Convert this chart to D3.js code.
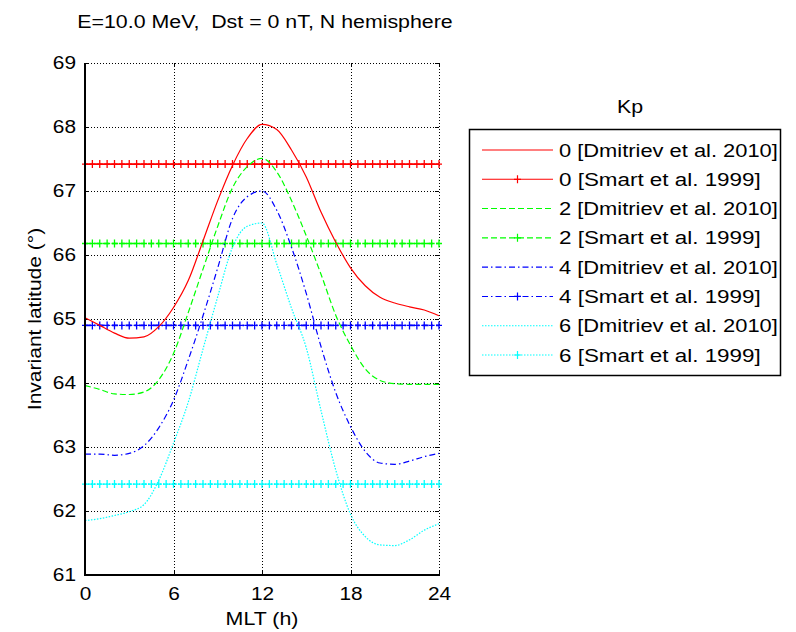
<!DOCTYPE html>
<html>
<head>
<meta charset="utf-8">
<script src="https://cdn.jsdelivr.net/npm/d3@7"></script>
<style>
  html, body { margin: 0; padding: 0; background: #fff; }
  svg { display: block; }
  text { font-family: "Liberation Sans", Arial, Helvetica, sans-serif; fill: #000; }
</style>
</head>
<body>
<svg id="chart" width="796" height="632"></svg>
<script>
// Magnetic local time (h) for the Dmitriev et al. (2010) cutoff curves
const mltHours = [0,1,2,3,4,5,6,7,8,9,10,11,12,13,14,15,16,17,18,19,20,21,22,23,24];

// Invariant latitude (deg) of the cutoff, one series per Kp level
const dmitrievKp0 = [65.02,64.90,64.78,64.70,64.72,64.88,65.18,65.60,66.22,66.85,67.40,67.82,68.04,67.96,67.64,67.22,66.67,66.20,65.80,65.52,65.34,65.25,65.19,65.14,65.05];
const dmitrievKp2 = [63.96,63.90,63.83,63.82,63.86,64.05,64.46,65.10,65.78,66.45,67.05,67.38,67.51,67.30,66.85,66.30,65.70,65.06,64.59,64.22,64.04,63.99,63.98,63.98,63.98];
const dmitrievKp4 = [62.89,62.89,62.87,62.90,63.02,63.30,63.73,64.36,65.05,65.80,66.57,66.91,67.00,66.70,66.12,65.40,64.57,63.85,63.32,62.93,62.75,62.73,62.78,62.85,62.90];
const dmitrievKp6 = [61.85,61.88,61.93,61.99,62.10,62.48,63.06,63.70,64.53,65.35,66.12,66.45,66.50,65.86,65.17,64.55,63.57,62.64,61.95,61.60,61.47,61.46,61.55,61.70,61.80];

// Smart et al. (1999) cutoff latitudes (independent of MLT), sampled every half hour
const smartMlt = [0,0.5,1,1.5,2,2.5,3,3.5,4,4.5,5,5.5,6,6.5,7,7.5,8,8.5,9,9.5,10,10.5,11,11.5,12,12.5,13,13.5,14,14.5,15,15.5,16,16.5,17,17.5,18,18.5,19,19.5,20,20.5,21,21.5,22,22.5,23,23.5,24];
const smartLatitude = [67.42, 66.18, 64.90, 62.42];

const kpLevels = ["0", "2", "4", "6"];
const xTicks = [0, 6, 12, 18, 24];
const yTicks = [61, 62, 63, 64, 65, 66, 67, 68, 69];

const titleText = "E=10.0 MeV,\u00a0 Dst = 0 nT, N hemisphere";
const xLabel = "MLT (h)";
const yLabel = "Invariant latitude (°)";
const legendTitle = "Kp";

const colors = ["#ff0000", "#00ff00", "#0000ff", "#00ffff"];
const dashes = [null, "6,3", "6,3,1.5,3", "1.5,1.5"];

const svg = d3.select("#chart");
const plot = { left: 85, right: 439, top: 63, bottom: 575 };

const x = d3.scaleLinear().domain([0, 24]).range([plot.left, plot.right]);
const y = d3.scaleLinear().domain([61, 69]).range([plot.bottom, plot.top]);

// Text in this figure is rendered slightly wide; stretch horizontally
function widen(k) {
  return sel => sel.each(function () {
    const w = this.getComputedTextLength();
    d3.select(this).attr("textLength", w * k).attr("lengthAdjust", "spacingAndGlyphs");
  });
}

// grid
const grid = svg.append("g").attr("stroke", "#000").attr("stroke-width", 1)
  .attr("stroke-dasharray", "1,2").attr("shape-rendering", "crispEdges");
grid.selectAll("line.gx").data(xTicks.slice(1, -1)).join("line")
  .attr("x1", d => Math.round(x(d)) + 0.5).attr("x2", d => Math.round(x(d)) + 0.5)
  .attr("y1", plot.top).attr("y2", plot.bottom);
grid.selectAll("line.gy").data(yTicks.slice(1, -1)).join("line")
  .attr("x1", plot.left).attr("x2", plot.right)
  .attr("y1", d => Math.round(y(d)) + 0.5).attr("y2", d => Math.round(y(d)) + 0.5);
// dotted top and right edges
grid.append("line").attr("x1", plot.left).attr("x2", plot.right)
  .attr("y1", plot.top + 0.5).attr("y2", plot.top + 0.5);
grid.append("line").attr("x1", plot.right + 0.5).attr("x2", plot.right + 0.5)
  .attr("y1", plot.top).attr("y2", plot.bottom);

// axes
const xAxis = d3.axisBottom(x).tickValues(xTicks).tickSize(0).tickPadding(13).tickFormat(d3.format("d"));
const yAxis = d3.axisLeft(y).tickValues(yTicks).tickSize(0).tickPadding(9).tickFormat(d3.format("d"));

const gx = svg.append("g").attr("transform", `translate(0,${plot.bottom})`).call(xAxis);
const gy = svg.append("g").attr("transform", `translate(${plot.left},0)`).call(yAxis);
[gx, gy].forEach(g => {
  g.select(".domain").remove();
  g.selectAll("text").attr("font-size", 17.5).attr("fill", "#000")
    .attr("font-family", "'Liberation Sans', Arial, sans-serif").call(widen(1.19));
});

// inward tick marks on all four sides
const ticks = svg.append("g").attr("stroke", "#000").attr("stroke-width", 1).attr("shape-rendering", "crispEdges");
xTicks.forEach(t => {
  const xp = Math.round(x(t)) + 0.5;
  ticks.append("line").attr("x1", xp).attr("x2", xp).attr("y1", plot.bottom).attr("y2", plot.bottom - 4);
  ticks.append("line").attr("x1", xp).attr("x2", xp).attr("y1", plot.top).attr("y2", plot.top + 4);
});
yTicks.forEach(t => {
  const yp = Math.round(y(t)) + 0.5;
  ticks.append("line").attr("x1", plot.left).attr("x2", plot.left + 4).attr("y1", yp).attr("y2", yp);
  ticks.append("line").attr("x1", plot.right).attr("x2", plot.right - 4).attr("y1", yp).attr("y2", yp);
});

// Smart et al. lines with plus markers
const dmitriev = [dmitrievKp0, dmitrievKp2, dmitrievKp4, dmitrievKp6];
const curves = svg.append("g");
smartLatitude.forEach((lat, i) => {
  const g = curves.append("g").attr("stroke", colors[i]).attr("fill", "none");
  const pts = smartMlt.map(h => [x(h), y(lat)]);
  g.append("path").attr("d", d3.line()(pts)).attr("stroke-width", 1.6)
    .attr("stroke-dasharray", dashes[i]);
  g.selectAll("path.mk").data(smartMlt).join("path")
    .attr("stroke-width", 1.3)
    .attr("d", h => `M${x(h) - 3},${y(lat)}H${x(h) + 3}M${x(h)},${y(lat) - 4}V${y(lat) + 4}`);
});

// Dmitriev et al. curves
const lineGen = d3.line().x((d, j) => x(mltHours[j])).y(d => y(d)).curve(d3.curveMonotoneX);
dmitriev.forEach((vals, i) => {
  curves.append("path").attr("d", lineGen(vals))
    .attr("fill", "none").attr("stroke", colors[i]).attr("stroke-width", 1.2)
    .attr("stroke-dasharray", dashes[i]);
});

// solid box edges (left, bottom)
const box = svg.append("g").attr("stroke", "#000").attr("stroke-width", 1.5).attr("shape-rendering", "crispEdges");
box.append("line").attr("x1", plot.left).attr("x2", plot.left).attr("y1", plot.top).attr("y2", plot.bottom + 1);
box.append("line").attr("x1", plot.left).attr("x2", plot.right + 1).attr("y1", plot.bottom).attr("y2", plot.bottom);

// titles and labels
svg.append("text").attr("x", 265).attr("y", 28).attr("text-anchor", "middle")
  .attr("font-size", 17.5).text(titleText).call(widen(1.22));
svg.append("text").attr("x", (plot.left + plot.right) / 2).attr("y", 625)
  .attr("text-anchor", "middle").attr("font-size", 17.5).text(xLabel).call(widen(1.22));
svg.append("text").attr("transform", `translate(41,${(plot.top + plot.bottom) / 2}) rotate(-90)`)
  .attr("text-anchor", "middle").attr("font-size", 17.5).text(yLabel).call(widen(1.2));

// legend
const legend = { x: 469, y: 129, w: 311, h: 246 };
svg.append("text").attr("x", 630).attr("y", 113).attr("text-anchor", "middle")
  .attr("font-size", 17.5).text(legendTitle).call(widen(1.22));
svg.append("rect").attr("x", legend.x + 0.5).attr("y", legend.y + 0.5)
  .attr("width", legend.w).attr("height", legend.h)
  .attr("fill", "#fff").attr("stroke", "#000").attr("stroke-width", 1.5);

const entries = [];
kpLevels.forEach((kp, i) => {
  entries.push({ label: `${kp} [Dmitriev et al. 2010]`, color: colors[i], dash: dashes[i], marker: false });
  entries.push({ label: `${kp} [Smart et al. 1999]`, color: colors[i], dash: dashes[i], marker: true });
});
const rowY = d3.scaleLinear().domain([0, entries.length - 1]).range([150, 355]);
const lg = svg.append("g");
entries.forEach((e, k) => {
  const cy = rowY(k);
  lg.append("line").attr("x1", 482).attr("x2", 553).attr("y1", cy).attr("y2", cy)
    .attr("stroke", e.color).attr("stroke-width", 1.1).attr("stroke-dasharray", e.dash);
  if (e.marker) {
    lg.append("path").attr("d", `M514,${cy}H521M517.5,${cy - 4}V${cy + 4}`)
      .attr("stroke", e.color).attr("stroke-width", 1.2).attr("fill", "none");
  }
  lg.append("text").attr("x", 559).attr("y", cy + 6.5).attr("font-size", 17.5)
    .text(e.label).call(widen(e.marker ? 1.28 : 1.25));
});
</script>
</body>
</html>
